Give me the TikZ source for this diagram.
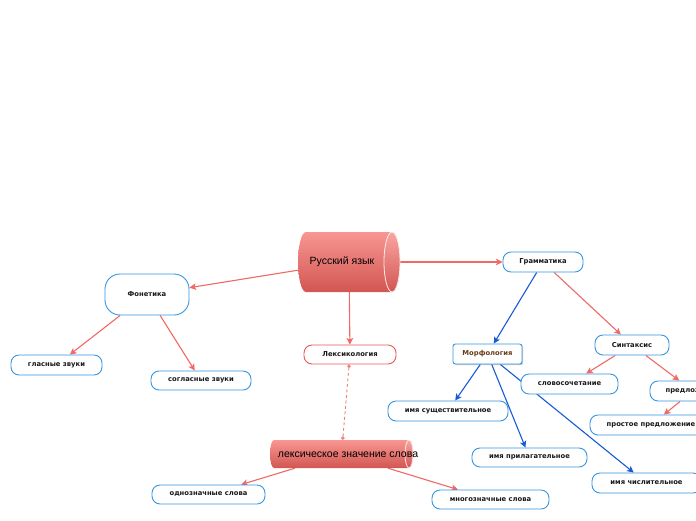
\documentclass[tikz,border=0pt]{standalone}
\usepackage{fontspec}
\setmainfont{DejaVu Sans}
\newfontfamily\cylfont{Liberation Sans}
\usetikzlibrary{arrows.meta,backgrounds,shadows}
\definecolor{bord}{RGB}{55,150,225}
\definecolor{barr}{RGB}{25,90,215}
\definecolor{rarr}{RGB}{240,105,100}
\definecolor{lexb}{RGB}{232,90,85}
\definecolor{cyltop}{RGB}{248,150,145}
\definecolor{cylmid}{RGB}{234,118,113}
\definecolor{cylbot}{RGB}{210,86,82}
\definecolor{morft}{RGB}{105,62,25}
\tikzset{
  box/.style={draw=bord, line width=0.9pt, fill=white, rounded corners=8pt, inner sep=0pt,
    font=\fontsize{6.8}{8}\selectfont\bfseries, text=black!90},
  lexbox/.style={box, draw=lexb},
  morfbox/.style={box, rounded corners=2.5pt, text=morft,
    drop shadow={shadow xshift=1.2pt, shadow yshift=-1.2pt, opacity=0.35, fill=black!60}},
  anchorbox/.style={draw=none, inner sep=0pt},
  cyltext/.style={font=\cylfont\fontsize{10.5}{12}\selectfont, text=black, inner sep=0pt},
  rarrow/.style={draw=rarr, line width=1.1pt, -{Stealth[length=6.5pt,width=6.5pt,inset=1.5pt]}},
  barrow/.style={draw=barr, line width=1.1pt, -{Stealth[length=6.5pt,width=6.5pt,inset=1.5pt]}},
  dotline/.style={draw=rarr!85, line width=0.9pt, dash pattern=on 3pt off 2.5pt,
    {Circle[length=3.5pt]}-{Circle[length=3.5pt]}}
}
\begin{document}
\begin{tikzpicture}[x=1pt,y=-1pt]
\useasboundingbox (0,0) rectangle (696,520);
\clip (0,0) rectangle (696,520);

% main cylinder
\node[anchorbox, minimum width=102pt, minimum height=60pt] (ru) at (349,262) {};
\shade[top color=cyltop, middle color=cylmid, bottom color=cylbot]
  (392,232) -- (306,232) arc[start angle=270,end angle=90,x radius=8,y radius=30]
  -- (392,292) arc[start angle=90,end angle=-90,x radius=8,y radius=30] -- cycle;
\shadedraw[top color=cyltop!85!white, middle color=cylmid, bottom color=cylbot, draw=white!80!cyltop, line width=0.8pt]
  (392,262) ellipse[x radius=8,y radius=30];
\node[cyltext] (rut) at (342,262) {Русский язык};

% lexical cylinder
\node[anchorbox, minimum width=143pt, minimum height=28pt] (lz) at (341.5,454) {};
\shade[top color=cyltop, middle color=cylmid, bottom color=cylbot]
  (409,440) -- (274,440) arc[start angle=270,end angle=90,x radius=4,y radius=14]
  -- (409,468) arc[start angle=90,end angle=-90,x radius=4,y radius=14] -- cycle;
\shadedraw[top color=cyltop!85!white, middle color=cylmid, bottom color=cylbot, draw=white!80!cyltop, line width=0.8pt]
  (409,454) ellipse[x radius=4,y radius=14];
\node[cyltext] (lzt) at (348,455) {лексическое значение слова};

% boxes
\node[box, rounded corners=15pt, minimum width=84pt, minimum height=41pt] (fon) at (147,294.5) {Фонетика};
\node[box, minimum width=91pt, minimum height=20pt] (glas) at (56.5,365) {гласные звуки};
\node[box, minimum width=100pt, minimum height=19pt] (sogl) at (201,380.5) {согласные звуки};
\node[lexbox, minimum width=92pt, minimum height=19pt] (lex) at (350,354.5) {Лексикология};
\node[box, minimum width=113pt, minimum height=19pt] (odn) at (208.5,494.5) {однозначные слова};
\node[box, minimum width=117pt, minimum height=19pt] (mnog) at (490.5,499.5) {многозначные слова};
\node[box, minimum width=80pt, minimum height=20pt] (gram) at (543,262) {Грамматика};
\node[morfbox, minimum width=69pt, minimum height=20pt] (morf) at (487.5,354) {Морфология};
\node[box, minimum width=74pt, minimum height=20pt] (sint) at (632,345) {Синтаксис};
\node[box, minimum width=97pt, minimum height=20pt] (slov) at (569.5,384) {словосочетание};
\node[box, minimum width=86pt, minimum height=20pt] (pred) at (693,391) {предложение};
\node[box, minimum width=122pt, minimum height=20pt] (prost) at (651,425) {простое предложение};
\node[box, minimum width=120pt, minimum height=20pt] (sush) at (448,411) {имя существительное};
\node[box, minimum width=115pt, minimum height=19pt] (pril) at (529.5,457.5) {имя прилагательное};
\node[box, minimum width=109pt, minimum height=20pt] (chisl) at (646.5,483) {имя числительное};

\begin{scope}[on background layer]
\fill[white] (0,0) rectangle (696,520);
\draw[rarrow] (ru) -- (fon);
\draw[rarrow] (ru) -- (gram);
\draw[rarrow] (ru) -- (lex);
\draw[rarrow] (fon) -- (glas);
\draw[rarrow] (fon) -- (sogl);
\draw[dotline] (lex) -- (lz);
\draw[rarrow] (lz) -- (odn);
\draw[rarrow] (lz) -- (mnog);
\draw[barrow] (gram) -- (morf);
\draw[rarrow] (gram) -- (sint);
\draw[barrow] (morf) -- (sush);
\draw[barrow] (morf) -- (pril);
\draw[barrow] (morf) -- (chisl);
\draw[rarrow] (sint) -- (slov);
\draw[rarrow] (sint) -- (pred);
\draw[rarrow] (pred) -- (prost);
\end{scope}
\end{tikzpicture}
\end{document}
